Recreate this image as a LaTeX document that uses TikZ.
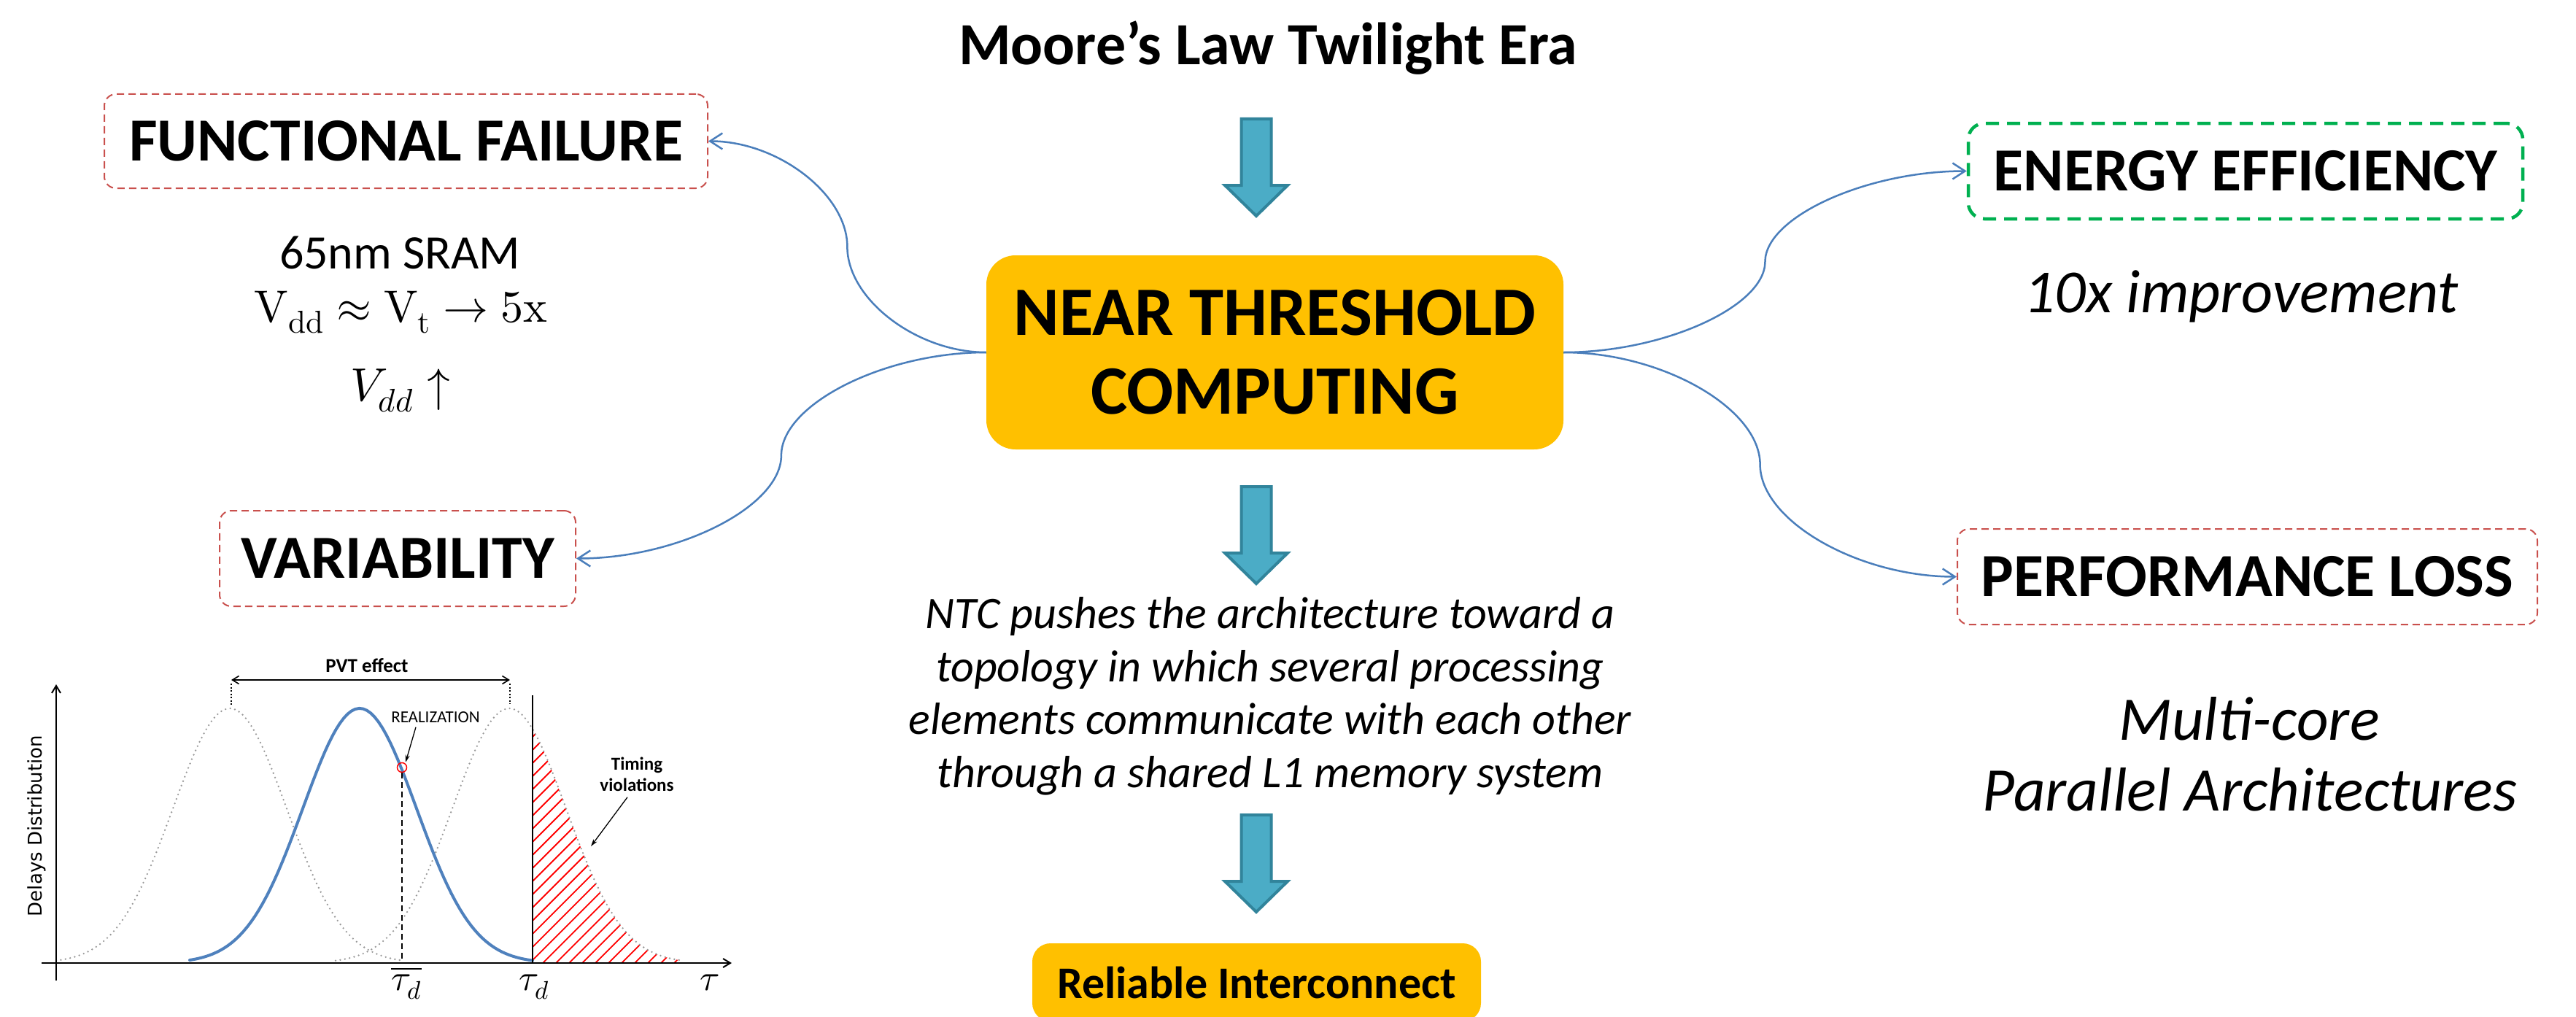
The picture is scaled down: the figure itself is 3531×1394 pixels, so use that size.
\documentclass[tikz,border=0pt]{standalone}
\usepackage{fontspec}
\usepackage{unicode-math}
\setmainfont{Carlito}
\setmathfont{Latin Modern Math}
\newfontfamily\plotsans{DejaVu Sans}
\usetikzlibrary{arrows.meta,calc}

\definecolor{ntcgold}{HTML}{FFC000}
\definecolor{linkblue}{HTML}{4A7EBB}
\definecolor{warnred}{HTML}{C9504D}
\definecolor{goodgreen}{HTML}{00B050}
\definecolor{arrowfill}{HTML}{4BACC6}
\definecolor{arrowedge}{HTML}{31849B}
\definecolor{curveblue}{HTML}{4F81BD}
\definecolor{dotgray}{HTML}{999999}

\newcommand{\fsz}[1]{\fontsize{#1pt}{#1pt}\selectfont}
% block arrow pointing down, top centre at #1
\newcommand{\blockarrow}[1]{%
  \draw[fill=arrowfill, draw=arrowedge, line width=4pt, line join=miter, shift={(#1)}]
    (-20.5,0) -- (20.5,0) -- (20.5,91) -- (43,91) -- (0,133) -- (-43,91) -- (-20.5,91) -- cycle;}
% Gaussian delay profile with mean #1
\newcommand{\gauss}[1]{1320-349*exp(-0.5*((\x-#1)/78)^2)}

\tikzset{
  riskbox/.style={draw=warnred, line width=2pt, dash pattern=on 10pt off 6pt,
    rounded corners=16pt, inner sep=0pt, font=\fsz{84}\bfseries},
  gainbox/.style={draw=goodgreen, line width=4.5pt, dash pattern=on 18pt off 11pt,
    rounded corners=22pt, inner sep=0pt, font=\fsz{84}\bfseries},
  goldbox/.style={fill=ntcgold, inner sep=0pt, font=\bfseries},
  link/.style={draw=linkblue, line width=2.5pt,
    -{Straight Barb[length=17pt,width=22pt,line width=2.5pt]}},
  plotaxis/.style={line width=2pt, -{Straight Barb[length=10pt,width=12pt,line width=2pt]}},
  dotcurve/.style={dotgray, line width=2.6pt, line cap=round, dash pattern=on 0pt off 6.5pt},
  thinarrow/.style={line width=1.3pt, -{Stealth[length=10pt,width=6pt]}},
}

\begin{document}
\begin{tikzpicture}[x=1pt,y=-1pt]
\useasboundingbox (0,0) rectangle (3531,1394);
\fill[white] (0,0) rectangle (3531,1394);

% ---- central column ----
\node[anchor=base, font=\fsz{82}\bfseries] (title) at (1738,89) {Moore’s Law Twilight Era};
\blockarrow{1722,163}

\node[goldbox, rounded corners=40pt, minimum width=791, minimum height=266,
      align=center, font=\fontsize{95pt}{108pt}\selectfont\bfseries] (ntc) at (1747.5,483)
  {NEAR THRESHOLD\\COMPUTING};

\blockarrow{1722,667}

% multi-line node: its base anchor sits on the last line
\node[anchor=base, align=center, font=\fontsize{62pt}{72.5pt}\selectfont\itshape] (ntcnote) at (1741,1079)
  {NTC pushes the architecture toward a\\topology in which several processing\\elements communicate with each other\\through a shared L1 memory system};

\blockarrow{1722,1117}

\node[goldbox, rounded corners=25pt, minimum width=615, minimum height=107,
      font=\fsz{62}\bfseries] (reliable) at (1722.5,1346.5) {Reliable Interconnect};

% ---- consequence boxes ----
\node[riskbox, minimum width=827, minimum height=129] (ff) at (556.5,193.5) {FUNCTIONAL FAILURE};
\node[riskbox, minimum width=488, minimum height=131] (var) at (545,765.5) {VARIABILITY};
\node[gainbox, minimum width=760, minimum height=131] (ee) at (3078,234.5) {ENERGY EFFICIENCY};
\node[riskbox, minimum width=795, minimum height=131] (pl) at (3080.5,790.5) {PERFORMANCE LOSS};

% ---- notes ----
\node[anchor=base, font=\fsz{66}] (sram) at (548,368) {65nm SRAM};
\node[anchor=base, font=\fsz{62}] (vddeq) at (550,441)
  {$\symup{V}_{\symup{dd}} \approx \symup{V}_{\symup{t}} \rightarrow 5\symup{x}$};
\node[anchor=base, font=\fsz{64}] (vddup) at (549,549) {$V_{dd}\uparrow$};
\node[anchor=base, font=\fsz{84}\itshape] (gain) at (3072,428) {10x improvement};
\node[anchor=base, font=\fsz{85}\itshape] (mc1) at (3083,1014) {Multi-core};
\node[anchor=base, font=\fsz{85}\itshape] (mc2) at (3084,1111) {Parallel Architectures};

% ---- curved connectors ----
\coordinate (mff) at ($(ntc.west)!0.5!(ff.east)$);
\coordinate (mvar) at ($(ntc.west)!0.5!(var.east)$);
\coordinate (mee) at ($(ntc.east)!0.5!(ee.west)$);
\coordinate (mpl) at ($(ntc.east)!0.5!(pl.west)$);
\draw[link] (ntc.west) to[out=180,in=270,out distance=95pt,in distance=72pt] (mff)
  to[out=90,in=0,out distance=72pt,in distance=95pt] (ff.east);
\draw[link] (ntc.west) to[out=180,in=90,out distance=140pt,in distance=70pt] (mvar)
  to[out=270,in=0,out distance=70pt,in distance=140pt] (var.east);
\draw[link] (ntc.east) to[out=0,in=270,out distance=138pt,in distance=61pt] (mee)
  to[out=90,in=180,out distance=61pt,in distance=138pt] (ee.west);
\draw[link] (ntc.east) to[out=0,in=90,out distance=135pt,in distance=77pt] (mpl)
  to[out=270,in=180,out distance=77pt,in distance=135pt] (pl.west);

% ---- delay distribution chart ----
\begin{scope}
  \clip (730,1320) -- plot[domain=730:935,samples=60] (\x,{\gauss{698}}) -- (935,1320) -- cycle;
  \foreach \k in {0,...,45}
    \draw[red, line width=1.8pt] ({330+18*\k},1320) -- ++(400,-400);
\end{scope}
\draw[dotcurve] plot[domain=77:550,samples=90] (\x,{\gauss{315}});
\draw[dotcurve] plot[domain=460:933,samples=90] (\x,{\gauss{698}});
\draw[curveblue, line width=4pt, line cap=round] plot[domain=260:730,samples=90] (\x,{\gauss{493}});

\draw[plotaxis] (77,1344) -- (77,938);
\draw[plotaxis] (57,1320) -- (1003,1320);
\draw[line width=2pt] (730,953) -- (730,1320);
\draw[line width=1.6pt, dash pattern=on 8pt off 5pt] (551,1059) -- (551,1320);
\node[circle, draw=red, line width=1.5pt, minimum size=13pt, inner sep=0pt] (rcirc) at (551,1052) {};

\node[font=\plotsans\fsz{26}, rotate=90] (ylabel) at (50,1132) {Delays Distribution};
\node[anchor=base, font=\fsz{23}] (realiz) at (597,990) {REALIZATION};
\draw[thinarrow] ([xshift=-27pt,yshift=-3pt]realiz.south) -- ([xshift=5pt]rcirc.north);

\node[anchor=base, font=\fsz{27}\bfseries] (pvt) at (503,921) {PVT effect};
\coordinate (pvtl) at (317,932);
\coordinate (pvtr) at (699,932);
\draw[line width=1.6pt, {Straight Barb[length=9pt,width=11pt,line width=1.6pt]}-{Straight Barb[length=9pt,width=11pt,line width=1.6pt]}] (pvtl) -- (pvtr);
\draw[line width=1.3pt, dash pattern=on 2pt off 2.5pt] ([yshift=-5pt]pvtl) -- ++(0,31);
\draw[line width=1.3pt, dash pattern=on 2pt off 2.5pt] ([yshift=-5pt]pvtr) -- ++(0,28);

\node[anchor=base, font=\fsz{25}\bfseries] (timing) at (873,1055) {Timing};
\node[anchor=base, font=\fsz{25}\bfseries] (violations) at (873,1084) {violations};
\coordinate (hatchpt) at (810,1160);
\draw[thinarrow] ([xshift=-13pt,yshift=-5pt]violations.south) -- (hatchpt);

\node[anchor=base, font=\fsz{50}] (taubar) at (557,1357) {$\overline{\tau_d}$};
\node[anchor=base, font=\fsz{50}] (taud) at (732,1357) {$\tau_d$};
\node[anchor=base, font=\fsz{50}] (tau) at (973,1357) {$\tau$};
\end{tikzpicture}
\end{document}
